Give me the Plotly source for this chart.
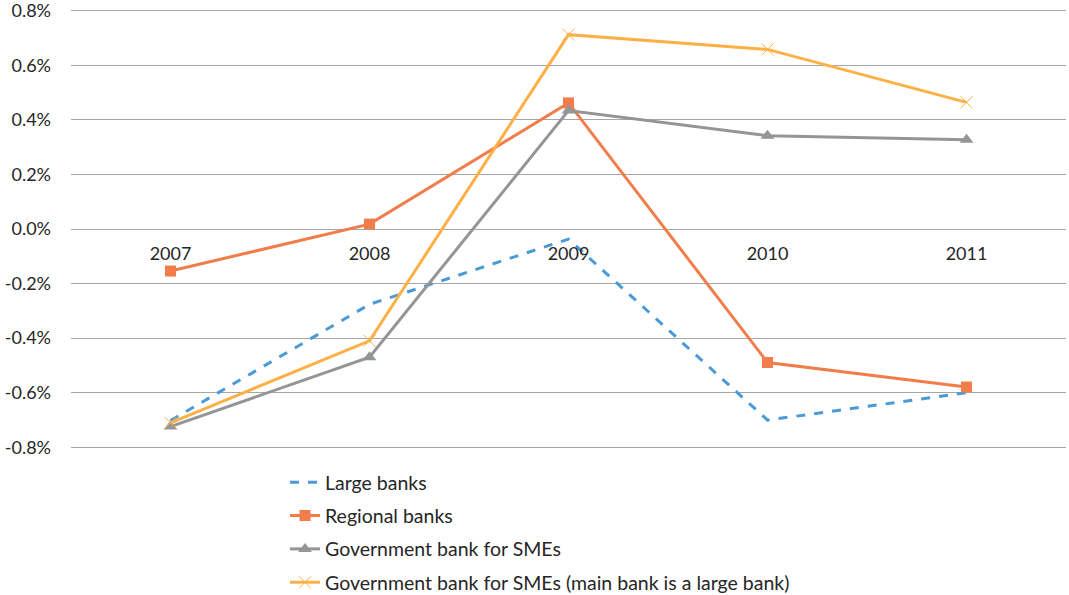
import plotly.graph_objects as go

years = ["2007", "2008", "2009", "2010", "2011"]

large_banks = [-0.702, -0.276, -0.037, -0.700, -0.600]
regional_banks = [-0.154, 0.018, 0.462, -0.489, -0.579]
gov_sme = [-0.724, -0.470, 0.434, 0.342, 0.327]
gov_sme_large_main = [-0.710, -0.410, 0.712, 0.658, 0.464]

y_ticks = [-0.8, -0.6, -0.4, -0.2, 0.0, 0.2, 0.4, 0.6, 0.8]
y_tick_text = [f"{v:.1f}%" for v in y_ticks]

FONT = "Lato, Open Sans, sans-serif"
TEXT = "#262626"
FS = 18

fig = go.Figure()

fig.add_trace(go.Scatter(
    x=years, y=large_banks, name="Large banks", mode="lines",
    line=dict(color="#4A9AD5", width=3, dash="dash"),
    legendgroup="a",
))
fig.add_trace(go.Scatter(
    x=years, y=regional_banks, name="Regional banks", mode="lines+markers",
    line=dict(color="#F07D4A", width=3),
    marker=dict(symbol="square", size=11, color="#F07D4A"),
    legendgroup="b",
))
fig.add_trace(go.Scatter(
    x=years, y=gov_sme, name="Government bank for SMEs", mode="lines+markers",
    line=dict(color="#939598", width=3),
    marker=dict(symbol="triangle-up", size=12, color="#939598"),
    legendgroup="c",
))
fig.add_trace(go.Scatter(
    x=years, y=gov_sme_large_main,
    name="Government bank for SMEs (main bank is a large bank)",
    mode="lines+markers",
    line=dict(color="#FDB045", width=3),
    marker=dict(symbol="x-thin", size=12, line=dict(color="#FDB045", width=1)),
    legendgroup="d",
))

fig.update_layout(
    width=1069, height=595,
    margin=dict(l=71, r=3, t=9, b=146, autoexpand=False),
    paper_bgcolor="white", plot_bgcolor="white",
    font=dict(family=FONT, size=FS, color=TEXT),
    showlegend=True,
    legend=dict(
        orientation="v",
        xref="container", yref="container",
        x=285 / 1069, y=1 - 463 / 595, xanchor="left", yanchor="top",
        font=dict(family=FONT, size=19.5, color=TEXT),
        tracegroupgap=5, bgcolor="rgba(0,0,0,0)",
    ),
    xaxis=dict(
        type="category", range=[-0.5, 4.5],
        anchor="free", position=0.5,
        showgrid=False, showline=False, ticks="",
        ticklabelstandoff=12,
        tickfont=dict(family=FONT, size=FS, color=TEXT),
        zeroline=False,
    ),
    yaxis=dict(
        range=[-0.806, 0.806], domain=[0, 1],
        tickvals=y_ticks, ticktext=y_tick_text,
        showgrid=True, gridcolor="#A6A6A6", gridwidth=1,
        zeroline=False, showline=False, ticks="",
        ticklabelstandoff=19, ticklabeloverflow="allow",
        tickfont=dict(family=FONT, size=FS, color=TEXT),
    ),
)

fig.write_html("out.html")
